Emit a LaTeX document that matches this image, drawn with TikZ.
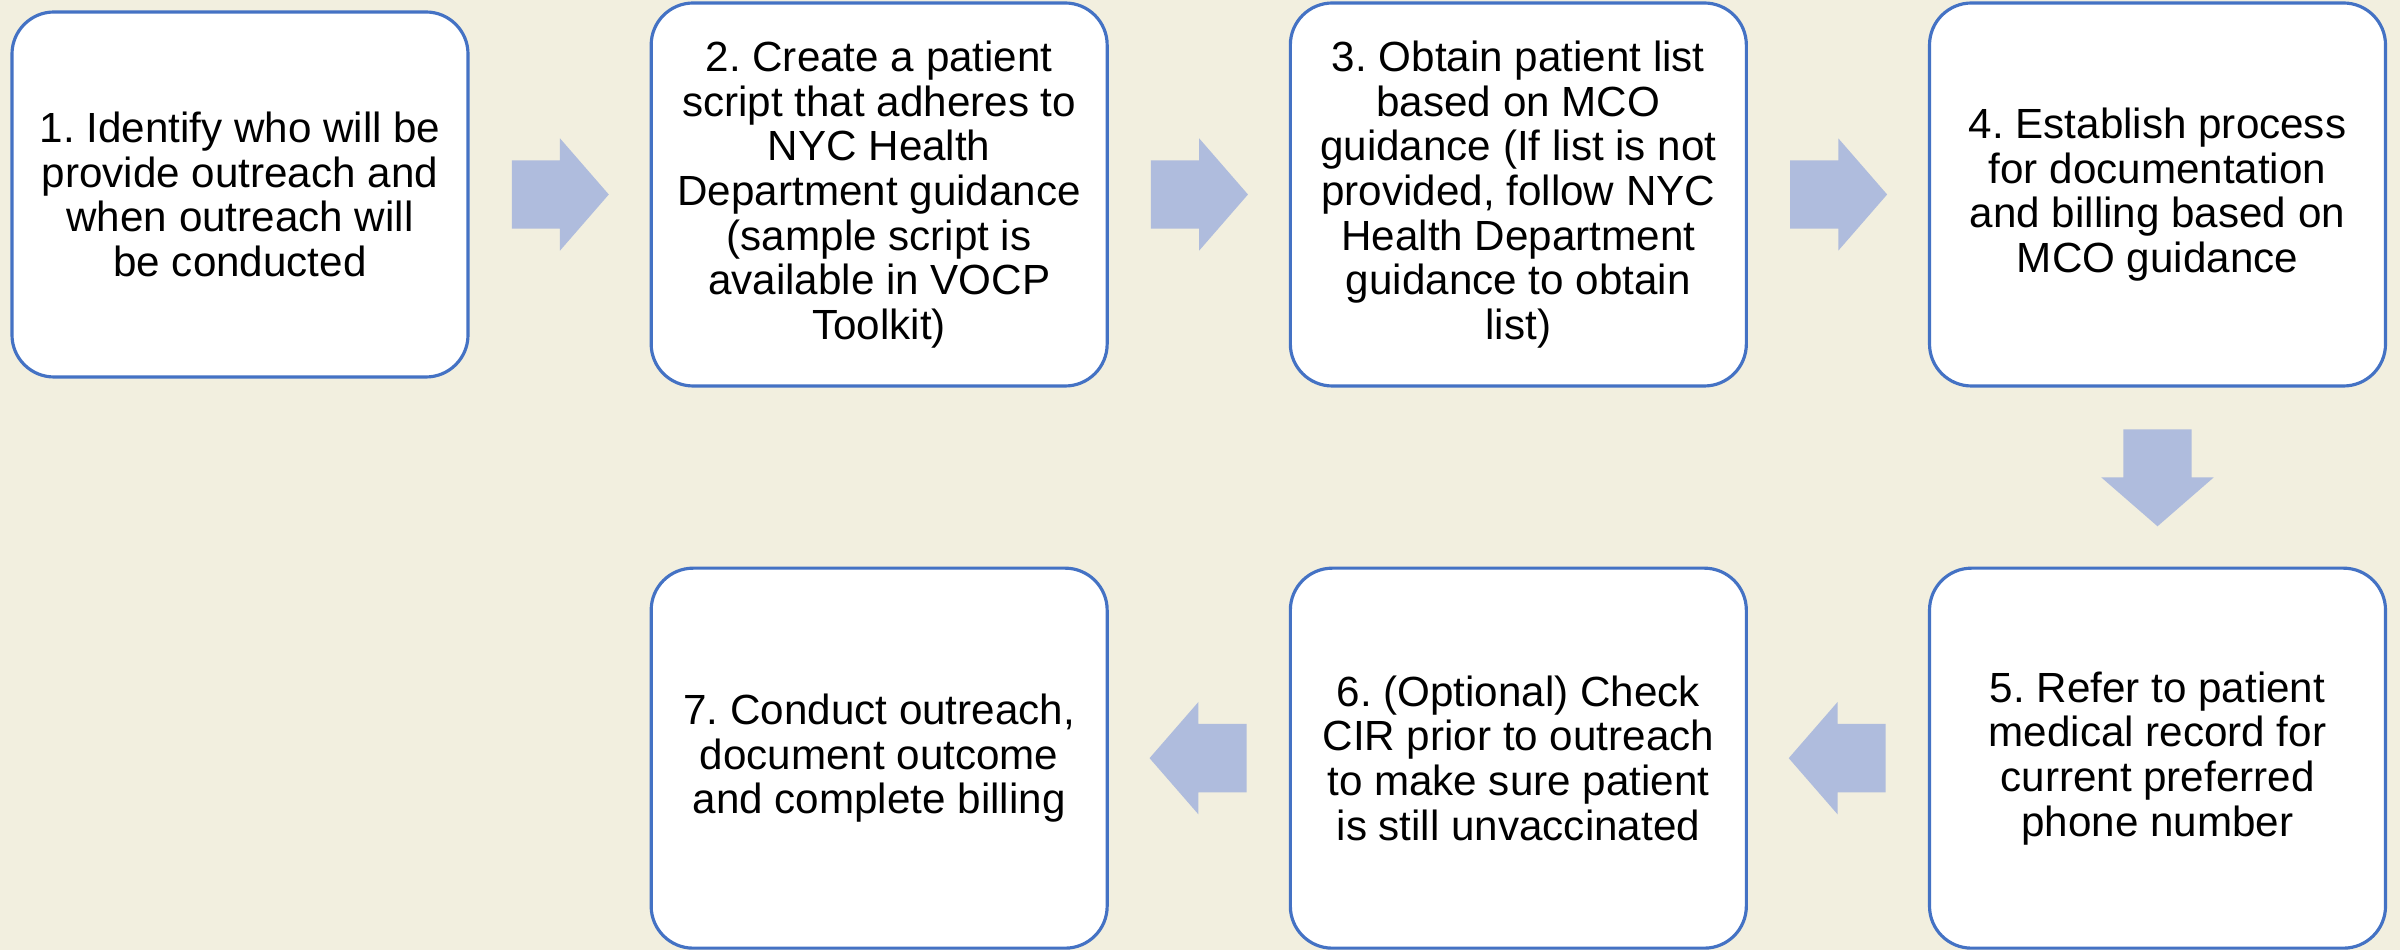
\documentclass[tikz,border=0pt]{standalone}
\usepackage{fontspec}
\setmainfont{Liberation Sans}
\usetikzlibrary{positioning,shapes.arrows,calc}
\definecolor{cream}{RGB}{242,239,223}
\definecolor{boxblue}{RGB}{68,114,196}
\definecolor{arrowblue}{RGB}{175,188,221}
\frenchspacing

\begin{document}
\begin{tikzpicture}[node distance=1.80cm, auto]
\tikzset{
   stepbox/.style={rectangle,rounded corners=0.42cm,draw=boxblue, fill=white, line width=0.9pt, inner sep=0pt, minimum width=4.56cm, minimum height=3.83cm, text centered, align=center, font=\fontsize{12}{12.7}\selectfont},
   flowarrow/.style={single arrow, fill=arrowblue, draw=none, anchor=tail, inner xsep=0pt, inner ysep=0.335cm, minimum height=0.97cm, minimum width=1.11cm, single arrow head extend=0.22cm, single arrow tip angle=98},
}
\fill[cream] (0,0) rectangle (24,9.5);
\useasboundingbox (0,0) rectangle (24,9.5);

\node[stepbox, minimum height=3.65cm] (identify) at (2.40,7.555) {1. Identify who will be\\provide outreach and\\when outreach will\\be conducted};
\node[stepbox, right=of identify] (script) {2. Create a patient\\script that adheres to\\NYC Health\\Department guidance\\(sample script is\\available in VOCP\\Toolkit)};
\node[stepbox, right=of script] (patlist) {3. Obtain patient list\\based on MCO\\guidance (If list is not\\provided, follow NYC\\Health Department\\guidance to obtain\\list)};
\node[stepbox, right=of patlist] (process) {4. Establish process\\for documentation\\and billing based on\\MCO guidance};
\node[stepbox, minimum height=3.80cm, below=1.79cm of process] (record) {5. Refer to patient\\medical record for\\current preferred\\phone number};
\node[stepbox, minimum height=3.80cm, left=of record] (cir) {6. (Optional) Check\\CIR prior to outreach\\to make sure patient\\is still unvaccinated};
\node[stepbox, minimum height=3.80cm, left=of cir] (conduct) {7. Conduct outreach,\\document outcome\\and complete billing};

% block arrows sit halfway between the boxes (tail set half a length back)
\node[flowarrow] (a12) at ($(identify.east)!.5!(script.west)+(-0.485,0)$) {};
\node[flowarrow] (a23) at ($(script.east)!.5!(patlist.west)+(-0.485,0)$) {};
\node[flowarrow] (a34) at ($(patlist.east)!.5!(process.west)+(-0.485,0)$) {};
\node[flowarrow, rotate=-90] (a45) at ($(process.south)!.5!(record.north)+(0,0.485)$) {};
\node[flowarrow, rotate=180] (a56) at ($(record.west)!.5!(cir.east)+(0.485,0)$) {};
\node[flowarrow, rotate=180] (a67) at ($(cir.west)!.5!(conduct.east)+(0.485,0)$) {};

\end{tikzpicture}
\end{document}
